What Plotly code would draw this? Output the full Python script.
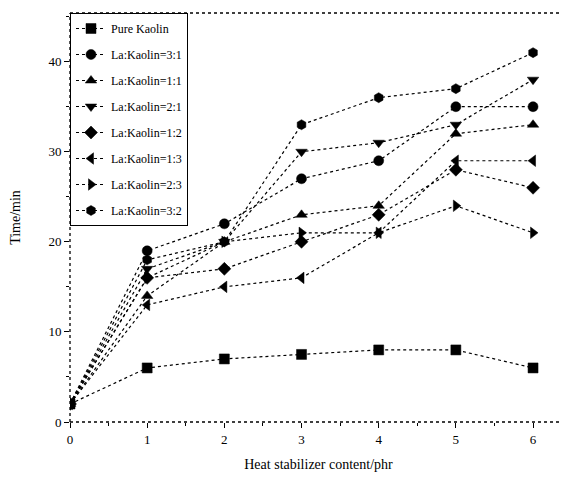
import plotly.graph_objects as go

x_values = [0, 1, 2, 3, 4, 5, 6]

series_names = [
    "Pure Kaolin",
    "La:Kaolin=3:1",
    "La:Kaolin=1:1",
    "La:Kaolin=2:1",
    "La:Kaolin=1:2",
    "La:Kaolin=1:3",
    "La:Kaolin=2:3",
    "La:Kaolin=3:2",
]

pure_kaolin = [2, 6, 7, 7.5, 8, 8, 6]
la_31 = [2, 19, 22, 27, 29, 35, 35]
la_11 = [2, 14, 20, 23, 24, 32, 33]
la_21 = [2, 17, 20, 30, 31, 33, 38]
la_12 = [2, 16, 17, 20, 23, 28, 26]
la_13 = [2, 13, 15, 16, 21, 29, 29]
la_23 = [2, 16, 20, 21, 21, 24, 21]
la_32 = [2, 18, 20, 33, 36, 37, 41]

series_values = [pure_kaolin, la_31, la_11, la_21, la_12, la_13, la_23, la_32]
symbols = ["square", "circle", "triangle-up", "triangle-down", "diamond",
           "triangle-left", "triangle-right", "hexagon"]

x_tick_labels = ["0", "1", "2", "3", "4", "5", "6"]
y_tick_values = [0, 10, 20, 30, 40]

FONT = "Liberation Serif"

fig = go.Figure()
for i, (name, vals, sym) in enumerate(zip(series_names, series_values, symbols)):
    fig.add_trace(go.Scatter(
        x=x_values, y=vals, name=name, mode="lines+markers",
        legendgroup=f"g{i}",
        line=dict(color="black", width=1.2, dash="dot"),
        marker=dict(symbol=sym, size=10, color="black",
                    line=dict(color="black", width=0.5)),
    ))

dotted = dict(color="black", width=1.3, dash="dot")
shapes = [
    dict(type="line", xref="paper", yref="paper", x0=0, y0=0, x1=1, y1=0, line=dotted),
    dict(type="line", xref="paper", yref="paper", x0=0, y0=0, x1=0, y1=1, line=dotted),
    dict(type="line", xref="paper", yref="paper", x0=0, y0=1, x1=1, y1=1, line=dotted),
]

fig.update_layout(
    width=567, height=486,
    margin=dict(l=62, r=8, t=5, b=72),
    paper_bgcolor="white", plot_bgcolor="white",
    font=dict(family=FONT, color="black", size=13),
    shapes=shapes,
    showlegend=True,
    legend=dict(
        x=0, y=1, xanchor="left", yanchor="top",
        bgcolor="white", bordercolor="black", borderwidth=1,
        font=dict(family=FONT, size=12, color="black"),
        tracegroupgap=7,
        itemwidth=30,
    ),
    xaxis=dict(
        range=[0, 6.44], tickmode="array", tickvals=x_values, ticktext=x_tick_labels,
        showgrid=False, zeroline=False, showline=False,
        ticks="outside", ticklen=5, tickcolor="black",
        minor=dict(dtick=0.5, ticks="outside", ticklen=3, tickcolor="black"),
        title=dict(text="Heat stabilizer content/phr", font=dict(size=14), standoff=13),
    ),
    yaxis=dict(
        range=[0, 45.4], tickmode="array", tickvals=y_tick_values,
        showgrid=False, zeroline=False, showline=False,
        ticks="outside", ticklen=5, tickcolor="black",
        minor=dict(dtick=5, ticks="outside", ticklen=3, tickcolor="black"),
        title=dict(text="Time/min", font=dict(size=14), standoff=24),
    ),
)

fig.write_html("out.html")
